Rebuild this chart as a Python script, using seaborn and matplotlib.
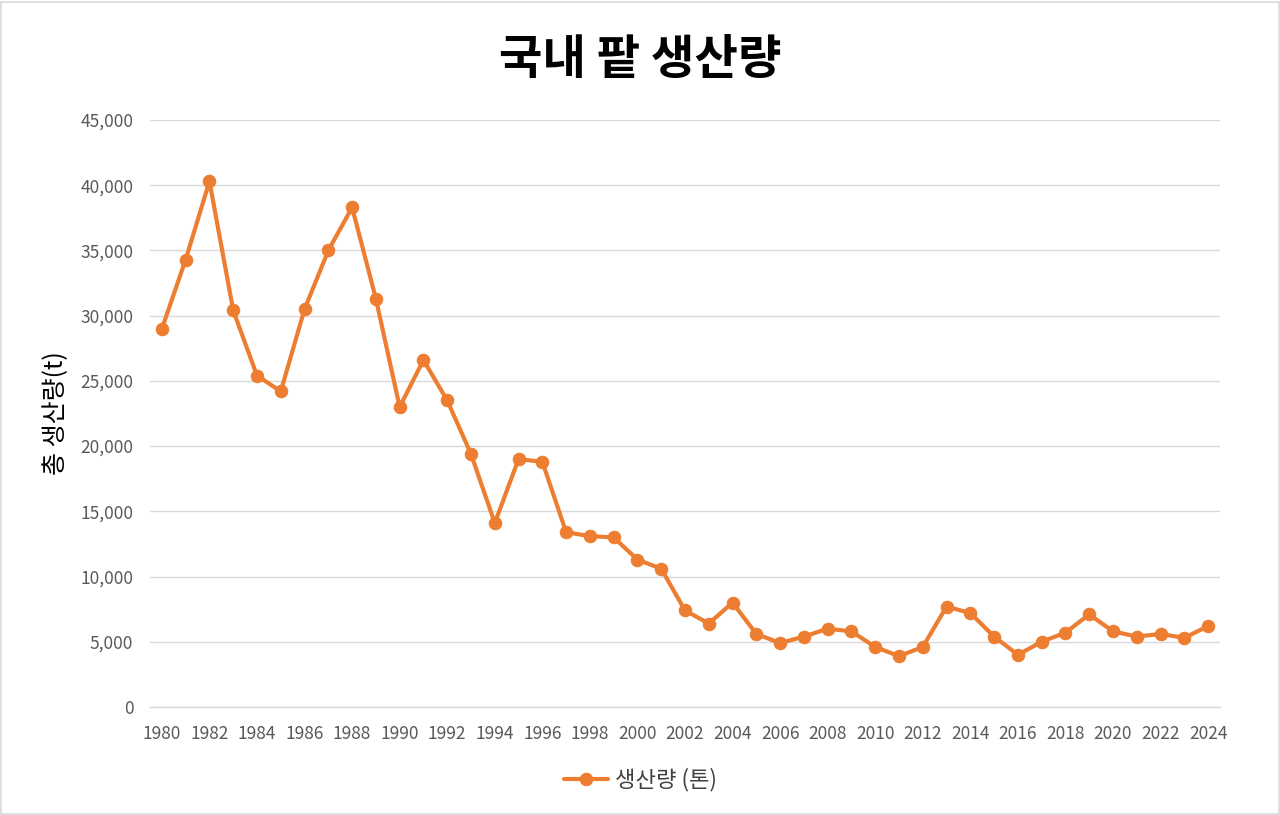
import numpy as np
import pandas as pd
import seaborn as sns
import matplotlib.pyplot as plt
from matplotlib.patches import Rectangle
from matplotlib.ticker import FuncFormatter

# data
years = list(range(1980, 2025))
production = [29000, 34300, 40300, 30400, 25400, 24200, 30500, 35000, 38300, 31300,
              23000, 26600, 23500, 19400, 14100, 19000, 18800, 13400, 13100, 13000,
              11300, 10600, 7400, 6400, 8000, 5600, 4900, 5400, 6000, 5800,
              4600, 3900, 4600, 7700, 7200, 5400, 4000, 5000, 5700, 7100,
              5800, 5400, 5600, 5300, 6200]
x_ticks = list(range(1980, 2025, 2))
y_ticks = list(range(0, 45001, 5000))

title = "국내 팥 생산량"
y_label = "총 생산량(t)"
series_name = "생산량 (톤)"

df = pd.DataFrame({"year": years, series_name: production})

sns.set_theme(style="white")
plt.rcParams['font.family'] = ['Noto Sans CJK KR', 'DejaVu Sans']

orange = "#ED7D31"
grey_text = "#595959"

fig = plt.figure(figsize=(12.8, 8.15), dpi=100)
ax = fig.add_axes([150 / 1280, 108 / 815, 1070 / 1280, 587 / 815])

sns.lineplot(data=df, x="year", y=series_name, ax=ax, color=orange,
             linewidth=3, marker="o", markersize=9, markeredgecolor=orange,
             label=series_name)

ax.set_xlim(1979.5, 2024.5)
ax.set_ylim(0, 45000)
ax.set_xticks(x_ticks)
ax.set_yticks(y_ticks)
ax.yaxis.set_major_formatter(FuncFormatter(lambda v, p: f"{int(v):,}"))
ax.tick_params(axis="both", labelsize=12.5, colors=grey_text, length=0)
ax.tick_params(axis="x", pad=13)
ax.tick_params(axis="y", pad=12)

ax.grid(axis="y", color="#d9d9d9", linewidth=1)
ax.set_axisbelow(True)
for s in ["top", "right", "left"]:
    ax.spines[s].set_visible(False)
ax.spines["bottom"].set_color("#d9d9d9")
ax.spines["bottom"].set_linewidth(1)

ax.set_xlabel("")
ax.set_ylabel(y_label, fontsize=18, color="black", labelpad=8)

fig.text(0.5, 1 - 60 / 815, title, fontsize=34, fontweight="bold",
         color="black", ha="center", va="center")

# legend sits at the centre of the whole chart, not of the plot area
ax.legend(loc="center", bbox_to_anchor=(0.5, 1 - 780 / 815),
          bbox_transform=fig.transFigure, frameon=False,
          fontsize=16, handlelength=2.0, handletextpad=0.3, labelcolor="#404040")

# light border round the chart, as in the reference
fig.patches.append(Rectangle((0.001, 0.001), 0.998, 0.997, transform=fig.transFigure,
                             fill=False, edgecolor="#d9d9d9", linewidth=1.2))

fig.savefig("out.png", dpi=100)
